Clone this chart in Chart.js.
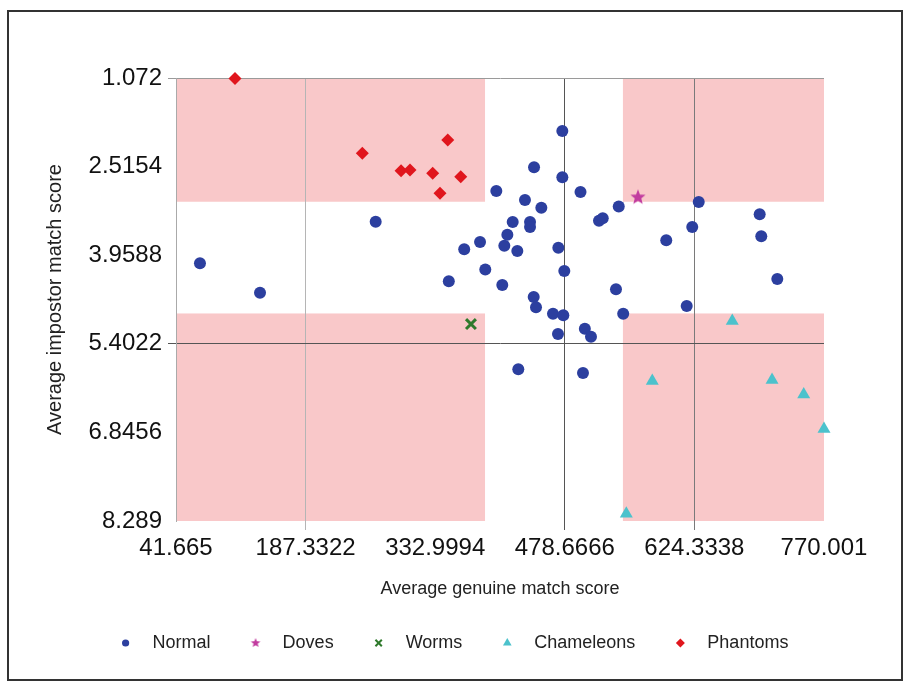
<!DOCTYPE html>
<html>
<head>
<meta charset="utf-8">
<script src="https://cdn.jsdelivr.net/npm/chart.js@4.4.1/dist/chart.umd.min.js"></script>
<style>
  html, body { margin: 0; padding: 0; background: #fff; }
  canvas { display: block; }
</style>
</head>
<body>
<canvas id="chart" width="906" height="683"></canvas>
<script>
// axis ticks
const xTicks = [41.665, 187.3322, 332.9994, 478.6666, 624.3338, 770.001];
const xTickLabels = ['41.665', '187.3322', '332.9994', '478.6666', '624.3338', '770.001'];
const yTicks = [1.072, 2.5154, 3.9588, 5.4022, 6.8456, 8.289];
const yTickLabels = ['1.072', '2.5154', '3.9588', '5.4022', '6.8456', '8.289'];

// shaded zones (x range, y range)
const zoneX = [[41.665, 389], [544, 770.001]];
const zoneY = [[1.072, 3.088], [4.908, 8.289]];

// series
const normal = [
  {x: 475.9, y: 1.935}, {x: 444.1, y: 2.527}, {x: 475.9, y: 2.690}, {x: 401.7, y: 2.913},
  {x: 496.3, y: 2.929}, {x: 433.9, y: 3.060}, {x: 452.3, y: 3.185}, {x: 539.3, y: 3.165},
  {x: 629.2, y: 3.092}, {x: 420.1, y: 3.418}, {x: 439.6, y: 3.418}, {x: 439.6, y: 3.499},
  {x: 517.1, y: 3.397}, {x: 521.3, y: 3.356}, {x: 621.9, y: 3.499}, {x: 414.1, y: 3.625},
  {x: 383.4, y: 3.744}, {x: 365.6, y: 3.861}, {x: 410.7, y: 3.804}, {x: 425.3, y: 3.890},
  {x: 471.4, y: 3.837}, {x: 592.7, y: 3.716}, {x: 389.3, y: 4.192}, {x: 478.1, y: 4.216},
  {x: 348.3, y: 4.384}, {x: 408.4, y: 4.444}, {x: 536.2, y: 4.513}, {x: 443.7, y: 4.640},
  {x: 446.3, y: 4.808}, {x: 615.7, y: 4.786}, {x: 465.4, y: 4.912}, {x: 477.0, y: 4.938},
  {x: 544.3, y: 4.913}, {x: 501.2, y: 5.156}, {x: 508.1, y: 5.288}, {x: 471.0, y: 5.242},
  {x: 697.7, y: 3.292}, {x: 699.5, y: 3.651}, {x: 717.5, y: 4.346}, {x: 499.1, y: 5.878},
  {x: 266.1, y: 3.413}, {x: 68.6, y: 4.091}, {x: 136.1, y: 4.570}, {x: 426.4, y: 5.818}
];
const doves = [{x: 560.9, y: 3.016}];
const worms = [{x: 373.2, y: 5.080}];
const chameleons = [
  {x: 666.9, y: 5.03}, {x: 577.0, y: 6.01}, {x: 711.6, y: 5.99},
  {x: 747.2, y: 6.23}, {x: 770.0, y: 6.79}, {x: 547.8, y: 8.17}
];
const phantoms = [
  {x: 108.0, y: 1.08}, {x: 251.1, y: 2.299}, {x: 347.1, y: 2.082}, {x: 294.6, y: 2.582},
  {x: 304.7, y: 2.571}, {x: 330.2, y: 2.625}, {x: 361.7, y: 2.680}, {x: 338.4, y: 2.950}
];

const FONT = "'Liberation Sans', Arial, sans-serif";
const colors = {
  normal: '#2c3f9f',
  doves: '#c23c9f',
  worms: '#2f7a2c',
  chameleons: '#4cc2cc',
  phantoms: '#e0161d'
};

// filled five point star as point image
function makeStar(outer, inner, color) {
  const c = document.createElement('canvas');
  const s = Math.ceil(outer * 2 + 2);
  c.width = s; c.height = s;
  const g = c.getContext('2d');
  g.fillStyle = color;
  g.beginPath();
  for (let i = 0; i < 10; i++) {
    const r = i % 2 === 0 ? outer : inner;
    const a = -Math.PI / 2 + i * Math.PI / 5;
    const px = s / 2 + Math.cos(a) * r, py = s / 2 + Math.sin(a) * r;
    if (i === 0) g.moveTo(px, py); else g.lineTo(px, py);
  }
  g.closePath();
  g.fill();
  return c;
}
const bigStar = makeStar(8, 3.4, colors.doves);
const smallStar = makeStar(5, 2.2, colors.doves);

const xGrid = {187.3322: '#b5b5b5', 478.6666: '#555555', 624.3338: '#7a7a7a'};
const yGrid = {1.072: '#9a9a9a', 5.4022: '#555555'};

const zonesPlugin = {
  id: 'zones',
  beforeDraw(chart) {
    const {ctx, scales: {x, y}} = chart;
    ctx.save();
    ctx.fillStyle = '#f9c8c9';
    zoneX.forEach(([x0, x1]) => {
      zoneY.forEach(([y0, y1]) => {
        const px0 = x.getPixelForValue(x0), px1 = x.getPixelForValue(x1);
        const py0 = y.getPixelForValue(y0), py1 = y.getPixelForValue(y1);
        ctx.fillRect(px0, py0, px1 - px0, py1 - py0);
      });
    });
    ctx.restore();
  }
};

const framePlugin = {
  id: 'frame',
  afterDraw(chart) {
    const ctx = chart.ctx;
    ctx.save();
    ctx.strokeStyle = '#333';
    ctx.lineWidth = 2;
    ctx.strokeRect(8, 11, 894, 669);
    ctx.restore();
  }
};

const legendPlugin = {
  id: 'myLegend',
  afterDraw(chart) {
    const ctx = chart.ctx;
    const items = chart.data.datasets.map(d => d.label);
    ctx.save();
    ctx.font = '18px ' + FONT;
    const lead = 27, gap = 45;
    const widths = items.map(t => ctx.measureText(t).width);
    const total = widths.reduce((a, w) => a + lead + w, 0) + gap * (items.length - 1);
    let cx = 457 - total / 2;
    const cy = 643;
    chart.data.datasets.forEach((d, i) => {
      const m = d.legendMarker;
      if (m.style === 'image') {
        ctx.drawImage(m.img, cx - m.img.width / 2, cy - m.img.height / 2);
      } else {
        ctx.fillStyle = d.backgroundColor;
        ctx.strokeStyle = d.borderColor;
        ctx.lineWidth = m.lineWidth || 1;
        Chart.helpers.drawPoint(ctx, {pointStyle: m.style, radius: m.radius, borderWidth: m.lineWidth || 0}, cx, cy);
      }
      ctx.fillStyle = '#222';
      ctx.textBaseline = 'middle';
      ctx.textAlign = 'left';
      ctx.fillText(items[i], cx + lead, cy);
      cx += lead + widths[i] + gap;
    });
    ctx.restore();
  }
};

new Chart(document.getElementById('chart'), {
  type: 'scatter',
  data: {
    datasets: [
      {
        label: 'Normal', data: normal, pointStyle: 'circle', pointRadius: 6, clip: false,
        backgroundColor: colors.normal, borderColor: colors.normal, borderWidth: 0,
        legendMarker: {style: 'circle', radius: 3.6}
      },
      {
        label: 'Doves', data: doves, pointStyle: bigStar, pointRadius: 8, clip: false,
        backgroundColor: colors.doves, borderColor: colors.doves, borderWidth: 0,
        legendMarker: {style: 'image', img: smallStar}
      },
      {
        label: 'Worms', data: worms, pointStyle: 'crossRot', pointRadius: 7, clip: false,
        backgroundColor: colors.worms, borderColor: colors.worms, borderWidth: 3,
        legendMarker: {style: 'crossRot', radius: 4.5, lineWidth: 2}
      },
      {
        label: 'Chameleons', data: chameleons, pointStyle: 'triangle', pointRadius: 7.5, clip: false,
        backgroundColor: colors.chameleons, borderColor: colors.chameleons, borderWidth: 0,
        legendMarker: {style: 'triangle', radius: 5}
      },
      {
        label: 'Phantoms', data: phantoms, pointStyle: 'rectRot', pointRadius: 6.5, clip: false,
        backgroundColor: colors.phantoms, borderColor: colors.phantoms, borderWidth: 0,
        legendMarker: {style: 'rectRot', radius: 4.5}
      }
    ]
  },
  options: {
    responsive: false,
    animation: false,
    devicePixelRatio: 1,
    layout: { padding: { left: 0, top: 78, right: 82, bottom: 0 } },
    plugins: {
      legend: { display: false },
      tooltip: { enabled: false }
    },
    scales: {
      x: {
        type: 'linear',
        position: 'bottom',
        min: 41.665,
        max: 770.001,
        afterBuildTicks: scale => { scale.ticks = xTicks.map(v => ({ value: v })); },
        afterFit: scale => { scale.height = 162; },
        ticks: {
          autoSkip: false,
          maxRotation: 0,
          padding: 4,
          color: '#111',
          font: { family: FONT, size: 24 },
          callback: (value, index) => xTickLabels[index]
        },
        grid: {
          color: ctx => (ctx.tick && xGrid[ctx.tick.value]) || 'rgba(0,0,0,0)',
          lineWidth: 1,
          tickLength: 9
        },
        border: { display: false },
        title: {
          display: true,
          text: 'Average genuine match score',
          color: '#222',
          font: { family: FONT, size: 18 },
          padding: { top: 0, bottom: 83 }
        }
      },
      y: {
        type: 'linear',
        reverse: true,
        min: 1.072,
        max: 8.289,
        afterBuildTicks: scale => { scale.ticks = yTicks.map(v => ({ value: v })); },
        afterFit: scale => { scale.width = 176; },
        ticks: {
          autoSkip: false,
          padding: 6,
          color: '#111',
          font: { family: FONT, size: 24 },
          callback: (value, index) => yTickLabels[index]
        },
        grid: {
          color: ctx => (ctx.tick && yGrid[ctx.tick.value]) || 'rgba(0,0,0,0)',
          lineWidth: 1,
          tickLength: 8
        },
        border: { display: true, color: '#aaaaaa', width: 1 },
        title: {
          display: true,
          text: 'Average impostor match score',
          color: '#222',
          font: { family: FONT, size: 20 },
          padding: { top: 43, bottom: 0 }
        }
      }
    }
  },
  plugins: [zonesPlugin, framePlugin, legendPlugin]
});
</script>
</body>
</html>
